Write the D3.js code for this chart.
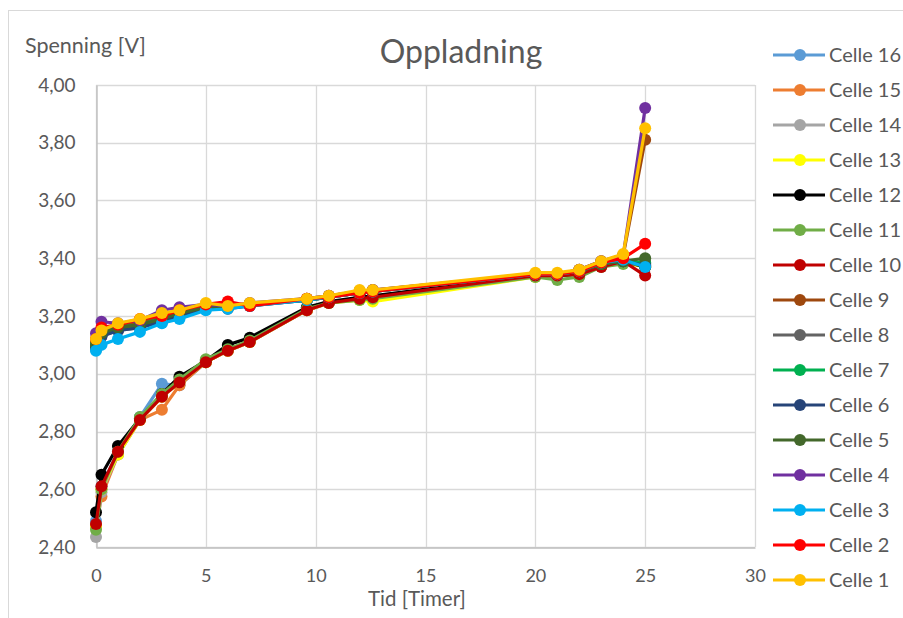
<!DOCTYPE html>
<html>
<head>
<meta charset="utf-8">
<script src="https://cdn.jsdelivr.net/npm/d3@7"></script>
<style>
  html, body { margin: 0; padding: 0; background: #fff; }
  svg { display: block; font-family: Lato, "Open Sans", sans-serif; }
</style>
</head>
<body>
<svg id="chart" width="903" height="618"></svg>
<script>
// ---- Data ----
const times = [0, 0.25, 1, 2, 3, 3.8, 5, 6, 7, 9.6, 10.6, 12, 12.6, 20, 21, 22, 23, 24, 25];

const celle1  = [3.12, 3.15, 3.175, 3.19, 3.21, 3.22, 3.245, 3.235, 3.245, 3.26, 3.27, 3.29, 3.29, 3.35, 3.35, 3.36, 3.39, 3.415, 3.85];
const celle2  = [3.12, 3.16, 3.17, 3.19, 3.20, 3.22, 3.24, 3.25, 3.235, 3.26, 3.265, 3.28, 3.285, 3.345, 3.345, 3.355, 3.385, 3.40, 3.45];
const celle3  = [3.08, 3.10, 3.12, 3.145, 3.175, 3.19, 3.22, 3.225, 3.235, 3.255, 3.265, 3.28, 3.285, 3.345, 3.345, 3.355, 3.385, 3.395, 3.37];
const celle4  = [3.14, 3.18, 3.175, 3.185, 3.22, 3.23, 3.24, 3.235, 3.245, 3.26, 3.27, 3.285, 3.29, 3.345, 3.345, 3.36, 3.39, 3.41, 3.92];
const celle5  = [3.10, 3.14, 3.16, 3.17, 3.19, 3.21, 3.23, 3.23, 3.24, 3.255, 3.265, 3.28, 3.285, 3.345, 3.345, 3.355, 3.38, 3.39, 3.40];
const celle6  = [3.09, 3.13, 3.15, 3.16, 3.18, 3.20, 3.225, 3.225, 3.235, 3.255, 3.265, 3.28, 3.285, 3.345, 3.345, 3.355, 3.385, 3.39, 3.375];
const celle7  = [3.10, 3.14, 3.16, 3.17, 3.19, 3.21, 3.23, 3.23, 3.24, 3.255, 3.265, 3.28, 3.285, 3.345, 3.345, 3.355, 3.38, 3.39, 3.385];
const celle8  = [3.085, 3.13, 3.15, 3.16, 3.18, 3.20, 3.225, 3.23, 3.235, 3.255, 3.265, 3.28, 3.285, 3.345, 3.345, 3.355, 3.385, 3.39, 3.38];
const celle9  = [3.11, 3.15, 3.165, 3.18, 3.20, 3.215, 3.235, 3.235, 3.24, 3.26, 3.27, 3.285, 3.29, 3.345, 3.345, 3.36, 3.39, 3.41, 3.81];
const celle10 = [2.48, 2.61, 2.73, 2.84, 2.92, 2.97, 3.04, 3.08, 3.11, 3.22, 3.245, 3.26, 3.265, 3.34, 3.34, 3.345, 3.37, 3.39, 3.34];
const celle11 = [2.46, 2.60, 2.73, 2.85, 2.93, 2.98, 3.05, 3.085, 3.115, 3.225, 3.245, 3.255, 3.26, 3.335, 3.325, 3.335, 3.37, 3.38, 3.38];
const celle12 = [2.52, 2.65, 2.75, 2.845, 2.93, 2.99, 3.045, 3.10, 3.125, 3.23, 3.25, 3.265, 3.27, 3.34, 3.34, 3.345, 3.375, 3.39, 3.37];
const celle13 = [2.47, 2.60, 2.72, 2.84, 2.92, 2.97, 3.04, 3.08, 3.11, 3.22, 3.245, 3.255, 3.25, 3.335, 3.34, 3.345, 3.375, 3.385, 3.37];
const celle14 = [2.435, 2.59, 2.72, 2.84, 2.92, 2.97, 3.04, 3.08, 3.11, 3.22, 3.245, 3.26, 3.265, 3.34, 3.34, 3.345, 3.375, 3.39, 3.37];
const celle15 = [2.47, 2.575, 2.72, 2.84, 2.875, 2.96, 3.04, 3.08, 3.11, 3.22, 3.245, 3.26, 3.265, 3.34, 3.34, 3.345, 3.375, 3.39, 3.37];
const celle16 = [2.49, 2.61, 2.73, 2.85, 2.965, 2.96, 3.04, 3.08, 3.11, 3.22, 3.245, 3.26, 3.265, 3.34, 3.34, 3.345, 3.375, 3.39, 3.375];

// legend / draw order (top of legend first)
const seriesNames = ["Celle 16","Celle 15","Celle 14","Celle 13","Celle 12","Celle 11","Celle 10","Celle 9",
                     "Celle 8","Celle 7","Celle 6","Celle 5","Celle 4","Celle 3","Celle 2","Celle 1"];
const seriesValues = [celle16, celle15, celle14, celle13, celle12, celle11, celle10, celle9,
                      celle8, celle7, celle6, celle5, celle4, celle3, celle2, celle1];
const seriesColors = ["#5B9BD5","#ED7D31","#A5A5A5","#FFFF00","#000000","#70AD47","#C00000","#9E480E",
                      "#636363","#00B050","#264478","#43682B","#7030A0","#00B0F0","#FF0000","#FFC000"];

const xTicks = [0, 5, 10, 15, 20, 25, 30];
const yTicks = [2.4, 2.6, 2.8, 3.0, 3.2, 3.4, 3.6, 3.8, 4.0];

const titleText = "Oppladning";
const yTitle = "Spenning [V]";
const xTitle = "Tid [Timer]";

// ---- Layout ----
const svg = d3.select("#chart");
const plot = { left: 96, right: 755, top: 85, bottom: 547 };
const x = d3.scaleLinear().domain([0, 30]).range([plot.left, plot.right]);
const y = d3.scaleLinear().domain([2.4, 4.0]).range([plot.bottom, plot.top]);
const nbFmt = d3.formatLocale({decimal: ",", thousands: " ", grouping: [3], currency: ["", ""]}).format(".2f");
const textColor = "#595959";

// chart border
svg.append("rect").attr("x", 8.5).attr("y", 10.5).attr("width", 920).attr("height", 640)
  .attr("fill", "none").attr("stroke", "#D9D9D9").attr("stroke-width", 1);

// gridlines
svg.append("g").selectAll("line").data(yTicks).join("line")
  .attr("x1", plot.left).attr("x2", plot.right)
  .attr("y1", d => Math.round(y(d)) + 0.5).attr("y2", d => Math.round(y(d)) + 0.5)
  .attr("stroke", "#D9D9D9").attr("stroke-width", 1.3);
svg.append("g").selectAll("line").data(xTicks).join("line")
  .attr("y1", plot.top).attr("y2", plot.bottom)
  .attr("x1", d => Math.round(x(d)) + 0.5).attr("x2", d => Math.round(x(d)) + 0.5)
  .attr("stroke", "#D9D9D9").attr("stroke-width", 1.3);

// axes
const xAxis = svg.append("g").attr("transform", `translate(0,${Math.round(plot.bottom) + 0.5})`)
  .call(d3.axisBottom(x).tickValues(xTicks).tickSize(0).tickFormat(d3.format("d")));
xAxis.select(".domain").attr("stroke", "#BFBFBF").attr("stroke-width", 1.4);
xAxis.selectAll("text").attr("fill", textColor).attr("font-size", 18)
  .attr("font-family", "Lato, sans-serif").attr("y", 34).attr("dy", 0);

const yAxis = svg.append("g").attr("transform", `translate(${plot.left + 0.5},0)`)
  .call(d3.axisLeft(y).tickValues(yTicks).tickSize(0).tickPadding(21).tickFormat(nbFmt));
yAxis.select(".domain").attr("stroke", "#BFBFBF").attr("stroke-width", 1.4);
yAxis.selectAll("text").attr("fill", textColor).attr("font-size", 19).attr("font-family", "Lato, sans-serif");

// titles
svg.append("text").attr("x", 461).attr("y", 63).attr("text-anchor", "middle")
  .attr("fill", textColor).attr("font-size", 32).text(titleText);
svg.append("text").attr("x", 25).attr("y", 53)
  .attr("fill", textColor).attr("font-size", 21.5).text(yTitle);
svg.append("text").attr("x", 417).attr("y", 606).attr("text-anchor", "middle")
  .attr("fill", textColor).attr("font-size", 20.5).text(xTitle);

// series
const line = d3.line().x(d => x(d[0])).y(d => y(d[1]));
seriesNames.forEach((name, i) => {
  const pts = times.map((t, j) => [t, seriesValues[i][j]]);
  const g = svg.append("g");
  g.append("path").datum(pts).attr("d", line)
    .attr("fill", "none").attr("stroke", seriesColors[i]).attr("stroke-width", 3.2)
    .attr("stroke-linejoin", "round");
  g.selectAll("circle").data(pts).join("circle")
    .attr("cx", d => x(d[0])).attr("cy", d => y(d[1])).attr("r", 6)
    .attr("fill", seriesColors[i]);
});

// legend
const legend = svg.append("g");
seriesNames.forEach((name, i) => {
  const ly = 55 + i * 35;
  const g = legend.append("g").attr("transform", `translate(0,${ly})`);
  g.append("line").attr("x1", 773).attr("x2", 825).attr("y1", 0).attr("y2", 0)
    .attr("stroke", seriesColors[i]).attr("stroke-width", 3.2);
  g.append("circle").attr("cx", 800).attr("cy", 0).attr("r", 6).attr("fill", seriesColors[i]);
  g.append("text").attr("x", 829).attr("y", 0).attr("dy", "0.35em")
    .attr("fill", textColor).attr("font-size", 20).text(name);
});
</script>
</body>
</html>
